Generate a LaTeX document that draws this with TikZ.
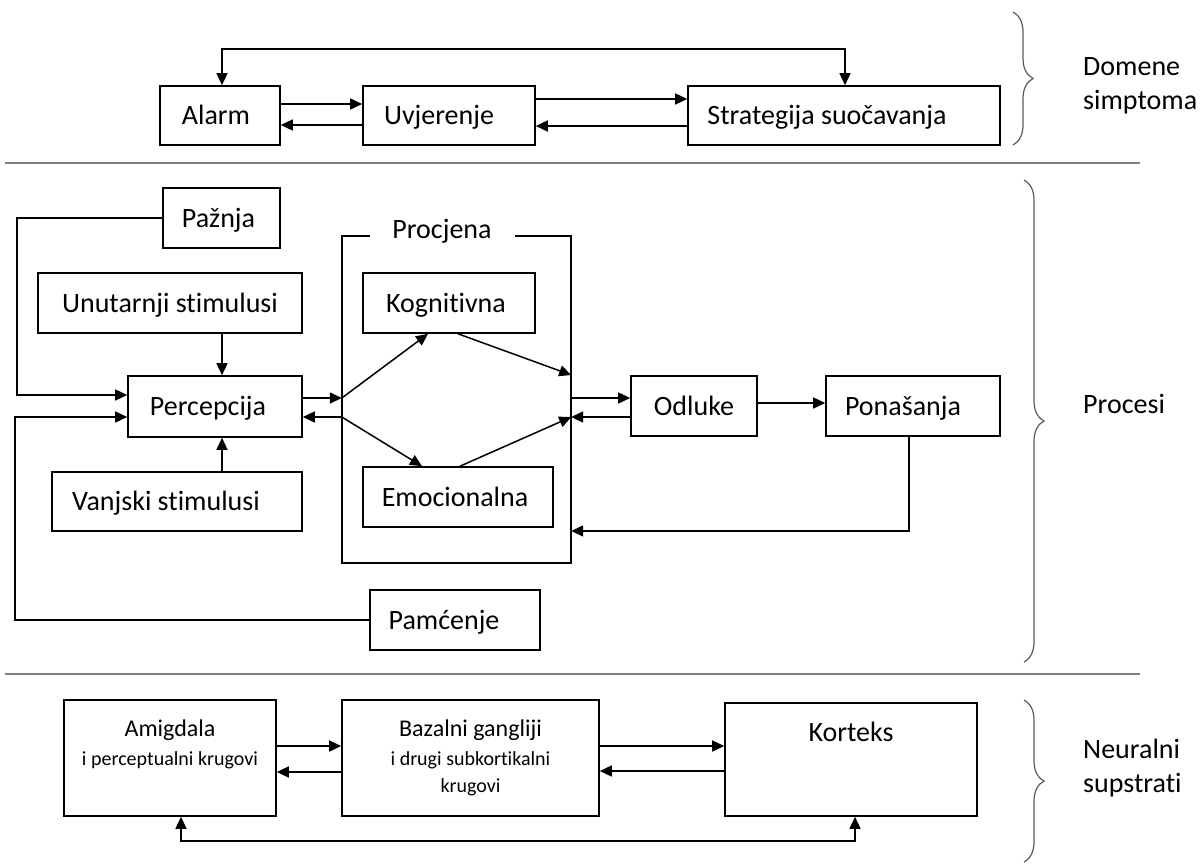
\documentclass[tikz,border=0pt]{standalone}
\usepackage{fontspec}
\setmainfont{Carlito}[Ligatures=NoCommon]
\usetikzlibrary{arrows.meta,positioning,decorations.pathreplacing}

\begin{document}
\begin{tikzpicture}[x=1pt,y=-1pt,>={Triangle[length=12pt,width=11pt]},
                    font=\fontsize{28}{34}\selectfont]
    \tikzstyle{box}=[draw, line width=1.6pt, inner sep=0pt, text height=24pt, text depth=6pt]
    \tikzstyle{arr}=[line width=1.5pt, ->]
    \tikzstyle{biarr}=[line width=1.5pt, <->]
    \tikzstyle{wire}=[line width=1.5pt]
    \tikzstyle{rule}=[line width=1.8pt, black!50]
    \tikzstyle{curly}=[decorate, decoration={brace, amplitude=20pt}, line width=1.2pt, black!65]
    \tikzstyle{side}=[anchor=west, align=left, inner sep=0pt]
    \tikzstyle{lower}=[align=center, inner sep=0pt, font=\fontsize{20}{27}\selectfont]

    \useasboundingbox (0,0) rectangle (1201,867);

    \node[box, minimum width=120pt, minimum height=59pt] (alarm) at (220,115.5) {Alarm\hspace*{8pt}};
    \node[box, minimum width=172pt, minimum height=59pt] (uvjerenje) at (449,115.5) {Uvjerenje\hspace*{20pt}};
    \node[box, minimum width=312pt, minimum height=59pt] (strategija) at (844,115.5) {Strategija suočavanja\hspace*{34pt}};

    \draw[arr] ([yshift=11.5pt]alarm.east) -- ([yshift=11.5pt]uvjerenje.west);
    \draw[arr] ([yshift=-9.5pt]uvjerenje.west) -- ([yshift=-9.5pt]alarm.east);
    \draw[arr] ([yshift=16.5pt]uvjerenje.east) -- ([yshift=16.5pt]strategija.west);
    \draw[arr] ([yshift=-10.5pt]strategija.west) -- ([yshift=-10.5pt]uvjerenje.east);
    \draw[biarr] ([xshift=2pt]alarm.north) -- ++(0,-36) -| ([xshift=1pt]strategija.north);

    \draw[curly] (1013,12) -- (1013,145);
    \node[side] (domene) at (1083,86) {Domene\\simptoma};

    \draw[rule] (5,163) -- (1140,163);

    \node[box, minimum width=117pt, minimum height=60pt] (paznja) at (221.5,218) {Pažnja\hspace*{6pt}};
    \node[box, minimum width=264pt, minimum height=60pt] (unutarnji) at (170,303) {Unutarnji stimulusi};
    \node[box, minimum width=174pt, minimum height=61pt] (percepcija) at (215,406.5) {Percepcija\hspace*{14pt}};
    \node[box, minimum width=250pt, minimum height=59pt] (vanjski) at (177,501.5) {Vanjski stimulusi\hspace*{22pt}};
    \node[minimum width=229pt, minimum height=327pt, inner sep=0pt] (procjena) at (456.5,399.5) {};
    \node[box, minimum width=172pt, minimum height=60pt] (kognitivna) at (449,303) {Kognitivna\hspace*{6pt}};
    \node[box, minimum width=190pt, minimum height=60pt] (emocionalna) at (458,497) {Emocionalna\hspace*{6pt}};
    \node[box, minimum width=126pt, minimum height=60pt] (odluke) at (694,406) {Odluke};
    \node[box, minimum width=174pt, minimum height=60pt] (ponasanja) at (913,406) {Ponašanja\hspace*{20pt}};
    \node[box, minimum width=170pt, minimum height=60pt] (pamcenje) at (455,620) {Pamćenje\hspace*{22pt}};
    \node[text height=24pt, text depth=6pt] (procjenatxt) at (442,229) {Procjena};

    \draw[wire] ([xshift=28pt]procjena.north west) -- (procjena.north west) -- (procjena.south west)
                -- (procjena.south east) -- (procjena.north east) -- ([xshift=-56pt]procjena.north east);

    \draw[arr] (paznja.west) -| ([xshift=-110pt,yshift=11.5pt]percepcija.west) -- ([yshift=11.5pt]percepcija.west);
    \draw[arr] (pamcenje.west) -| ([xshift=-112pt,yshift=-10.5pt]percepcija.west) -- ([yshift=-10.5pt]percepcija.west);
    \draw[arr] ([xshift=7pt]percepcija.north |- unutarnji.south) -- ([xshift=7pt]percepcija.north);
    \draw[arr] ([xshift=7pt]percepcija.south |- vanjski.north) -- ([xshift=7pt]percepcija.south);

    \draw[arr] ([yshift=8.5pt]percepcija.east) -- ([yshift=1.5pt]procjena.west);
    \draw[arr] ([yshift=-17.5pt]procjena.west) -- ([yshift=-10.5pt]percepcija.east);
    \draw[arr] ([yshift=1.5pt]procjena.west) -- ([xshift=-21pt]kognitivna.south);
    \draw[arr] ([yshift=-17.5pt]procjena.west) -- ([xshift=-36pt]emocionalna.north);
    \draw[arr] ([xshift=9pt]kognitivna.south) -- ([yshift=24.5pt]procjena.east);
    \draw[arr] ([xshift=2pt]emocionalna.north) -- ([yshift=-17.5pt]procjena.east);

    \draw[arr] ([yshift=1.5pt]procjena.east) -- ([yshift=8pt]odluke.west);
    \draw[arr] ([yshift=-11pt]odluke.west) -- ([yshift=-17.5pt]procjena.east);
    \draw[arr] ([yshift=3pt]odluke.east) -- ([yshift=3pt]ponasanja.west);
    \draw[arr] ([xshift=-4pt]ponasanja.south) |- ([yshift=-131.5pt]procjena.east);

    \draw[curly] (1024,180) -- (1024,662);
    \node[side] (procesi) at (1083,404) {Procesi};

    \draw[rule] (5,674) -- (1140,674);

    \node[box, minimum width=212pt, minimum height=116pt] (amigdala) at (170,758) {};
    \node[box, minimum width=257pt, minimum height=116pt] (bazalni) at (470.5,758) {};
    \node[box, minimum width=252pt, minimum height=113pt] (korteks) at (851,759.5) {};
    \node[lower, below=20pt of amigdala.north] (amigdalatxt)
        {{\fontsize{24}{29}\selectfont Amigdala}\\[2pt] i perceptualni krugovi};
    \node[lower, below=20pt of bazalni.north] (bazalnitxt)
        {{\fontsize{24}{29}\selectfont Bazalni gangliji}\\[2pt] i drugi subkortikalni\\ krugovi};
    \node[anchor=base] (korteksstxt) at ([yshift=-39pt]korteks.north) {Korteks};

    \draw[arr] ([yshift=12pt]amigdala.east) -- ([yshift=12pt]bazalni.west);
    \draw[arr] ([yshift=-14pt]bazalni.west) -- ([yshift=-14pt]amigdala.east);
    \draw[arr] ([yshift=12pt]bazalni.east) -- ([yshift=13.5pt]korteks.west);
    \draw[arr] ([yshift=-11.5pt]korteks.west) -- ([yshift=-13pt]bazalni.east);
    \draw[biarr] ([xshift=11pt]amigdala.south) -- ++(0,24) -| ([xshift=4pt]korteks.south);

    \draw[curly] (1024,700) -- (1024,862);
    \node[side] (neuralni) at (1083,768) {Neuralni\\supstrati};
\end{tikzpicture}
\end{document}
